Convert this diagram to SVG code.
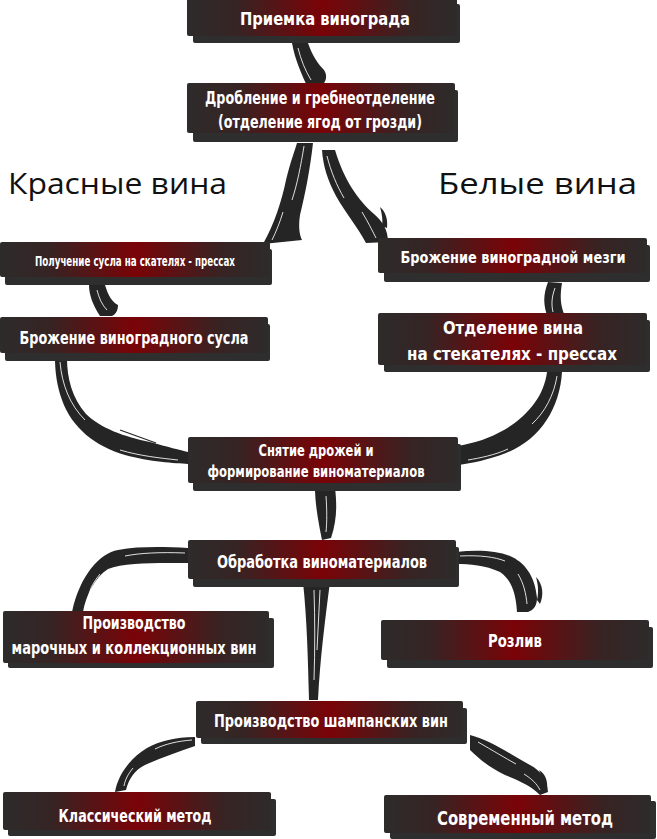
<svg xmlns="http://www.w3.org/2000/svg" width="657" height="839" viewBox="0 0 657 839">
<defs>
<linearGradient id="g" x1="0" y1="0" x2="1" y2="0">
<stop offset="0" stop-color="#2e2b2b"/>
<stop offset="0.18" stop-color="#362424"/>
<stop offset="0.5" stop-color="#7a0307"/>
<stop offset="0.82" stop-color="#382323"/>
<stop offset="1" stop-color="#2e2b2b"/>
</linearGradient>
<style>
.box{fill:url(#g)}
.sh{fill:#2f2e2e}
.t{font-family:"DejaVu Sans Condensed","DejaVu Sans","Liberation Sans",sans-serif;font-weight:bold;font-stretch:condensed;fill:#fff;text-anchor:middle}
.h{font-family:"Open Sans","DejaVu Sans",sans-serif;font-size:30px;fill:#111}
.brush{fill:#262525}
.st{stroke:#fff;stroke-width:1;fill:none;opacity:.85}
.dl{stroke:#262525;stroke-width:1.2;fill:none}
</style>
</defs>
<rect width="657" height="839" fill="#fff"/>

<g id="connectors">
<path class="brush" d="M292,43 L308,43 C312,55 318,64 324,70 C328,76 326,82 321,87 L308,88 C302,75 295,60 292,43 Z"/>
<path class="st" d="M298,48 C301,60 305,70 311,80"/>
<path class="brush" d="M297,143 L313,143 C310,170 305,195 300,215 C298,228 300,236 302,240 L263,244 C274,225 282,200 286,180 C291,160 295,150 297,143 Z"/>
<path class="st" d="M304,146 C301,165 297,185 292,200"/>
<path class="st" d="M283,212 C280,222 276,232 272,240"/>
<path class="brush" d="M322,150 L335,150 C344,180 358,200 374,214 C383,222 388,230 388,242 L366,243 C357,226 345,212 336,196 C328,181 323,166 322,150 Z"/>
<path class="brush" d="M380,207 C386,212 388,220 387,228 L382,226 C383,220 382,214 380,207 Z"/>
<path class="st" d="M327,156 C331,172 337,186 344,198"/>
<path class="st" d="M362,212 C368,222 372,230 376,238"/>
<path class="brush" d="M89,285 L105,285 C108,295 112,302 118,305 C118,310 116,314 112,316 L100,316 C93,305 89,295 89,285 Z"/>
<path class="st" d="M97,290 C99,298 102,305 107,310"/>
<path class="brush" d="M548,282 L562,283 C560,295 560,305 565,316 L548,318 C543,305 543,295 548,282 Z"/>
<path class="st" d="M555,288 C552,296 551,304 553,312"/>
<path class="brush" d="M55,358 L67,358 C67,378 72,398 86,414 C100,428 125,437 150,442 C168,447 180,450 188,452 L188,464 C175,463 150,462 125,455 C95,446 72,428 62,400 C57,386 55,372 55,358 Z"/>
<path class="dl" d="M120,430 L156,443"/>
<path class="st" d="M60,362 C62,385 70,405 85,420"/>
<path class="st" d="M120,450 C140,456 160,458 178,460"/>
<path class="brush" d="M547,372 L562,372 C560,408 540,440 506,453 C488,460 472,463 458,465 L458,446 C475,443 490,438 504,430 C528,416 544,396 547,372 Z"/>
<path class="st" d="M557,376 C554,395 545,412 532,424"/>
<path class="st" d="M508,449 C495,455 480,458 468,460"/>
<path class="brush" d="M315,488 L335,488 C337,505 337,520 331,538 L322,540 C319,525 315,505 315,488 Z"/>
<path class="st" d="M326,496 C327,510 327,522 326,532"/>
<path class="brush" d="M188,548 C165,547 140,546 118,550 C100,553 80,575 72,612 L83,612 C86,595 95,577 108,569 C125,562 160,563 188,563 Z"/>
<path class="st" d="M185,553 C160,552 140,553 125,556"/>
<path class="st" d="M100,574 C92,584 88,592 90,598"/>
<path class="brush" d="M456,552 C475,550 495,550 510,556 C524,562 535,575 537,598 C537,605 534,610 528,612 L517,612 C516,595 512,580 500,572 C485,565 470,564 456,564 Z"/>
<path class="brush" d="M536,577 C543,584 544,595 540,604 L537,600 C539,592 538,584 536,577 Z"/>
<path class="st" d="M460,556 C480,555 495,557 505,561"/>
<path class="st" d="M518,574 C524,584 526,594 527,604"/>
<path class="brush" d="M303,582 L330,582 C325,620 320,660 318,700 L309,700 C308,660 307,620 303,582 Z"/>
<path class="st" d="M314,590 C315,620 315,650 314,680"/>
<path class="st" d="M320,590 C319,610 318,630 317,650"/>
<path class="brush" d="M195,737 C175,737 160,741 147,748 C130,758 118,775 115,792 L126,790 C129,778 135,770 145,765 C160,758 178,752 195,746 Z"/>
<path class="st" d="M192,740 C178,741 165,744 155,749"/>
<path class="st" d="M133,768 C128,774 125,780 124,786"/>
<path class="brush" d="M470,735 C490,740 510,754 530,765 C541,771 547,779 548,792 L540,795 C531,786 520,781 505,775 C490,768 478,758 470,750 Z"/>
<path class="brush" d="M539,770 C546,774 548,782 547,790 L543,788 C544,782 542,776 539,770 Z"/>
<path class="st" d="M478,742 C492,750 505,758 516,764"/>
<path class="st" d="M524,774 C532,779 537,784 540,790"/>
</g>

<text class="h" x="8" y="194" textLength="219" lengthAdjust="spacingAndGlyphs">Красные вина</text>
<text class="h" x="438" y="194" textLength="199" lengthAdjust="spacingAndGlyphs">Белые вина</text>

<g id="n1">
<rect class="sh" x="193" y="4" width="267" height="39" rx="2"/>
<rect class="box" x="187" y="-3" width="270" height="39" rx="2"/>
<text class="t" x="325" y="25" font-size="18" textLength="170" lengthAdjust="spacingAndGlyphs">Приемка винограда</text>
</g>
<g id="n2">
<rect class="sh" x="193" y="90" width="265" height="52" rx="2"/>
<rect class="box" x="187" y="83" width="268" height="50" rx="2"/>
<text class="t" x="320" y="104" font-size="17" textLength="230" lengthAdjust="spacingAndGlyphs">Дробление и гребнеотделение</text>
<text class="t" x="320" y="128" font-size="17" textLength="204" lengthAdjust="spacingAndGlyphs">(отделение ягод от грозди)</text>
</g>
<g id="n3">
<rect class="sh" x="5" y="249" width="267" height="36" rx="2"/>
<rect class="box" x="0" y="242" width="270" height="35" rx="2"/>
<text class="t" x="135" y="266" font-size="14" textLength="200" lengthAdjust="spacingAndGlyphs">Получение сусла на скателях - прессах</text>
</g>
<g id="n4">
<rect class="sh" x="5" y="324" width="265" height="37" rx="2"/>
<rect class="box" x="0" y="317" width="268" height="36" rx="2"/>
<text class="t" x="134" y="344" font-size="17" textLength="229" lengthAdjust="spacingAndGlyphs">Брожение виноградного сусла</text>
</g>
<g id="n5">
<rect class="sh" x="384" y="245" width="266" height="37" rx="2"/>
<rect class="box" x="378" y="238" width="269" height="35" rx="2"/>
<text class="t" x="513" y="263" font-size="16" textLength="225" lengthAdjust="spacingAndGlyphs">Брожение виноградной мезги</text>
</g>
<g id="n6">
<rect class="sh" x="384" y="320" width="266" height="52" rx="2"/>
<rect class="box" x="378" y="313" width="269" height="52" rx="2"/>
<text class="t" x="513" y="334" font-size="18" textLength="140" lengthAdjust="spacingAndGlyphs">Отделение вина</text>
<text class="t" x="512" y="360" font-size="18" textLength="210" lengthAdjust="spacingAndGlyphs">на стекателях - прессах</text>
</g>
<g id="n7">
<rect class="sh" x="193" y="444" width="268" height="47" rx="2"/>
<rect class="box" x="188" y="437" width="270" height="46" rx="2"/>
<text class="t" x="316" y="456" font-size="15" textLength="115" lengthAdjust="spacingAndGlyphs">Снятие дрожей и</text>
<text class="t" x="316" y="477" font-size="15" textLength="217" lengthAdjust="spacingAndGlyphs">формирование виноматериалов</text>
</g>
<g id="n8">
<rect class="sh" x="193" y="547" width="266" height="40" rx="2"/>
<rect class="box" x="188" y="540" width="268" height="39" rx="2"/>
<text class="t" x="322" y="568" font-size="18" textLength="210" lengthAdjust="spacingAndGlyphs">Обработка виноматериалов</text>
</g>
<g id="n9">
<rect class="sh" x="8" y="618" width="266" height="50" rx="2"/>
<rect class="box" x="3" y="611" width="266" height="52" rx="2"/>
<text class="t" x="134" y="629" font-size="17" textLength="103" lengthAdjust="spacingAndGlyphs">Производство</text>
<text class="t" x="134" y="654" font-size="17" textLength="245" lengthAdjust="spacingAndGlyphs">марочных и коллекционных вин</text>
</g>
<g id="n10">
<rect class="sh" x="387" y="627" width="266" height="41" rx="2"/>
<rect class="box" x="381" y="620" width="268" height="40" rx="2"/>
<text class="t" x="515" y="647" font-size="18" textLength="54" lengthAdjust="spacingAndGlyphs">Розлив</text>
</g>
<g id="n11">
<rect class="sh" x="201" y="708" width="266" height="36" rx="2"/>
<rect class="box" x="196" y="701" width="267" height="37" rx="2"/>
<text class="t" x="331" y="727" font-size="17" textLength="234" lengthAdjust="spacingAndGlyphs">Производство шампанских вин</text>
</g>
<g id="n12">
<rect class="sh" x="8" y="799" width="268" height="37" rx="2"/>
<rect class="box" x="3" y="792" width="268" height="38" rx="2"/>
<text class="t" x="135" y="822" font-size="18" textLength="153" lengthAdjust="spacingAndGlyphs">Классический метод</text>
</g>
<g id="n13">
<rect class="sh" x="390" y="801" width="266" height="38" rx="2"/>
<rect class="box" x="384" y="795" width="267" height="38" rx="2"/>
<text class="t" x="525" y="825" font-size="20" textLength="176" lengthAdjust="spacingAndGlyphs">Современный метод</text>
</g>
</svg>
